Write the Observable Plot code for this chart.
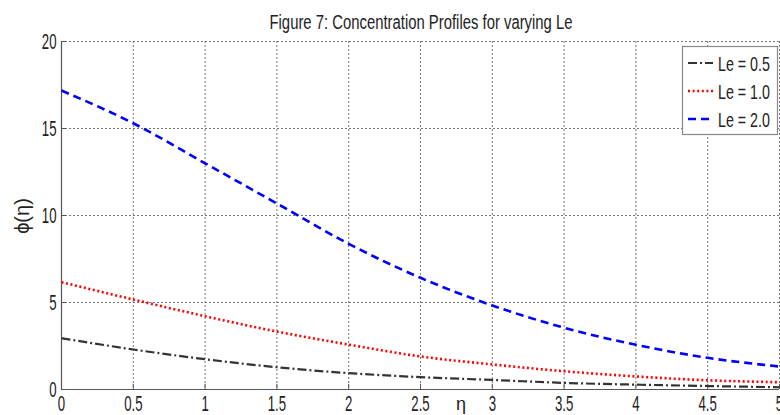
<!DOCTYPE html>
<html><head><meta charset="utf-8">
<script src="https://cdn.jsdelivr.net/npm/d3@7"></script>
<script src="https://cdn.jsdelivr.net/npm/@observablehq/plot@0.6"></script>
<style>
html,body{margin:0;padding:0;background:#fff;}
#chart{position:relative;width:780px;height:415px;overflow:hidden;}
</style></head><body><div id="chart"></div>
<script>
const eta = [0, 0.5, 1, 1.5, 2, 2.5, 3, 3.5, 4, 4.5, 5];
const le05 = [2.95, 2.3, 1.74, 1.28, 0.94, 0.71, 0.55, 0.38, 0.28, 0.2, 0.13];
const le10 = [6.17, 5.17, 4.21, 3.33, 2.58, 1.9, 1.44, 1.05, 0.75, 0.53, 0.42];
const le20 = [17.18, 15.3, 13.0, 10.69, 8.37, 6.42, 4.83, 3.55, 2.57, 1.82, 1.32];
const seriesNames = ["Le = 0.5", "Le = 1.0", "Le = 2.0"];
const xTicks = [0, 0.5, 1, 1.5, 2, 2.5, 3, 3.5, 4, 4.5, 5];
const xTickLabels = ["0", "0.5", "1", "1.5", "2", "2.5", "3", "3.5", "4", "4.5", "5"];
const yTicks = [0, 5, 10, 15, 20];
const titleText = "Figure 7: Concentration Profiles for varying Le";
const xLabel = "η";
const yLabel = "ϕ(η)";

const styles = [
  {color: "#333333", dash: "9,3,2,3", width: 2.2},
  {color: "#ff0000", dash: "2,2.6", width: 2.6},
  {color: "#0000ff", dash: "8,5", width: 2.6}
];
const seriesValues = [le05, le10, le20];
const data = seriesNames.flatMap((s, k) => eta.map((x, i) => ({eta: x, phi: seriesValues[k][i], series: s})));

const font = "'Liberation Sans Narrow','Liberation Sans',Arial,sans-serif";
const squeeze = 0.6;

const plot = Plot.plot({
  width: 780, height: 415,
  marginLeft: 61, marginRight: 1, marginTop: 41, marginBottom: 26,
  style: {fontFamily: font, fontSize: "22px", color: "#222", background: "#fff"},
  x: {domain: [0, 5]},
  y: {domain: [0, 20]},
  marks: [
    Plot.ruleY(yTicks.filter(d => d > 0), {stroke: "#777", strokeDasharray: "2,2", strokeWidth: 1}),
    Plot.ruleX(xTicks.filter(d => d > 0), {stroke: "#777", strokeDasharray: "2,2", strokeWidth: 1}),
    Plot.ruleX(xTicks, {y1: 0, y2: 0.3, stroke: "#555"}),
    Plot.ruleY(yTicks, {x1: 0, x2: 0.035, stroke: "#555"}),
    Plot.ruleX([0], {stroke: "#555", strokeWidth: 1.2}),
    Plot.ruleY([0], {stroke: "#555", strokeWidth: 1.2}),
    ...seriesNames.map((s, k) => Plot.line(data.filter(d => d.series === s), {
      x: "eta", y: "phi", stroke: styles[k].color, strokeWidth: styles[k].width,
      strokeDasharray: styles[k].dash, curve: "monotone-x", strokeLinecap: "butt"
    })),
    Plot.axisX({ticks: xTicks, tickFormat: (d, i) => xTickLabels[i], tickSize: 0, tickPadding: 6, label: null, fontSize: 22}),
    Plot.axisY({ticks: yTicks, tickSize: 0, tickPadding: 5, label: null, fontSize: 22})
  ]
});
document.getElementById("chart").appendChild(plot);

const svg = d3.select(plot);
// condense tick labels like the reference's narrow typeface (horizontal scale about each label's anchor)
svg.selectAll("g[aria-label='x-axis tick label'] text, g[aria-label='y-axis tick label'] text").each(function() {
  const t = this.getAttribute("transform") || "";
  this.setAttribute("transform", t + " scale(" + squeeze + ",1)");
});

svg.append("text").attr("x", 421).attr("y", 29).attr("text-anchor", "middle")
  .attr("font-family", font).attr("font-size", 20).attr("fill", "#222")
  .attr("textLength", 303).attr("lengthAdjust", "spacingAndGlyphs").text(titleText);
svg.append("text").attr("transform", "translate(29,216) rotate(-90)").attr("text-anchor", "middle")
  .attr("font-family", "'Liberation Sans',Arial,sans-serif").attr("font-size", 20).attr("fill", "#222").text(yLabel);
svg.append("text").attr("x", 461).attr("y", 410).attr("text-anchor", "middle")
  .attr("font-family", "'Liberation Sans',Arial,sans-serif").attr("font-size", 18).attr("fill", "#222").text(xLabel);

// legend
const lg = svg.append("g");
lg.append("rect").attr("x", 682.5).attr("y", 46.5).attr("width", 95).attr("height", 88)
  .attr("fill", "#fff").attr("stroke", "#888").attr("stroke-width", 1.2);
const rowsY = [63, 91, 119];
seriesNames.forEach((s, k) => {
  lg.append("line").attr("x1", 688).attr("x2", 713).attr("y1", rowsY[k]).attr("y2", rowsY[k])
    .attr("stroke", styles[k].color).attr("stroke-width", styles[k].width).attr("stroke-dasharray", styles[k].dash);
  const txt = lg.append("text").attr("transform", `translate(718,${rowsY[k]}) scale(0.65,1)`)
    .attr("dy", "0.36em").attr("text-anchor", "start")
    .attr("font-family", font).attr("font-size", 21).attr("fill", "#222").text(s);
  const w = txt.node().getComputedTextLength();
  txt.attr("transform", `translate(718,${rowsY[k]}) scale(${(52 / w).toFixed(3)},1)`);
});
</script></body></html>
